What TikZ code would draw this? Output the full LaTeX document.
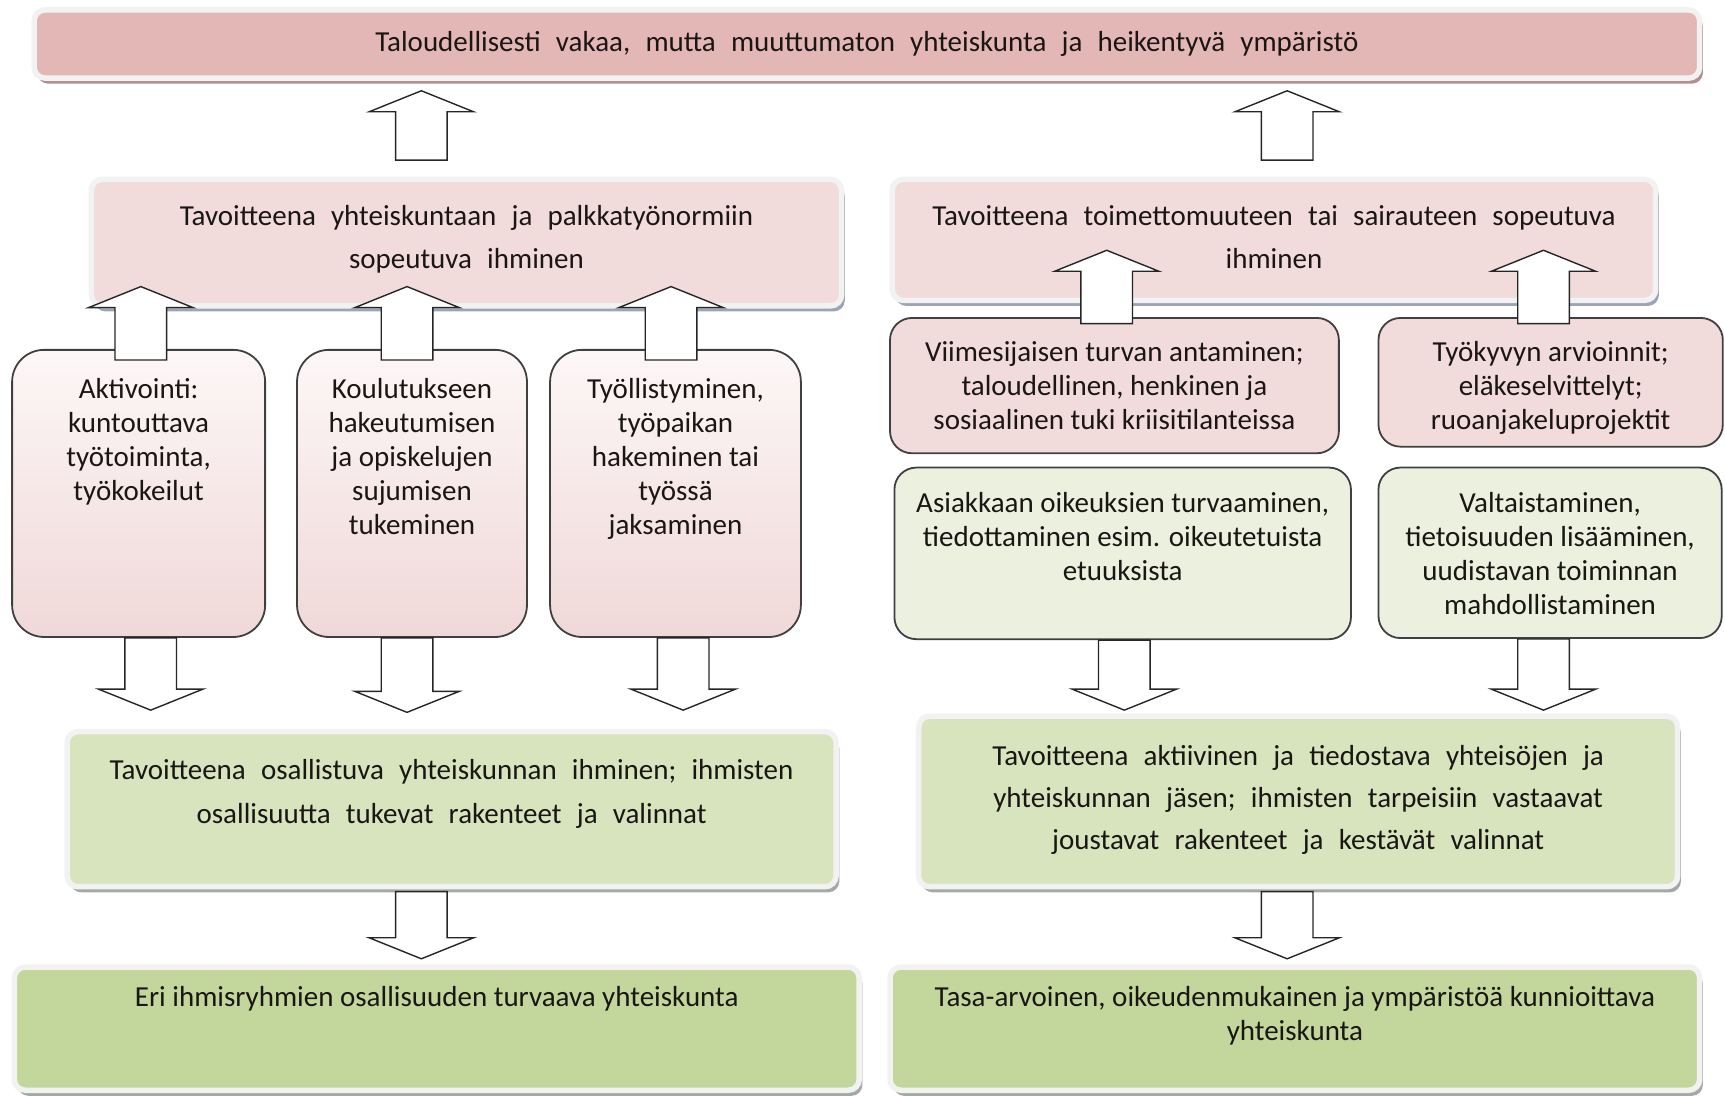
\documentclass[tikz,border=0pt]{standalone}
\usepackage{xcolor}
\usepackage{fontspec}
\setmainfont{Carlito}
\usepackage{tikz}
\usetikzlibrary{calc,shadows}

\definecolor{toppink}{HTML}{E4B7B7}
\definecolor{topshade}{HTML}{B48F90}
\definecolor{lightpink}{HTML}{F2DCDB}
\definecolor{blueshade}{HTML}{9AA5B8}
\definecolor{midgreen}{HTML}{D7E4BD}
\definecolor{darkgreen}{HTML}{C3D69B}
\definecolor{greyshade}{HTML}{A3AAA6}
\definecolor{lightgreen}{HTML}{EBF1DE}
\definecolor{framegrey}{HTML}{F2F2F2}
\definecolor{edgedark}{HTML}{404040}
\definecolor{gradtop}{HTML}{FDF7F7}
\definecolor{gradbottom}{HTML}{F0D8D8}
\definecolor{textdark}{HTML}{1A1614}

% wider word gaps in the banners
\newcommand{\widespaces}{\spaceskip=7.6pt plus 2pt minus 1pt\relax}
% text pinned to the top of a box: height, width, text
\newcommand{\boxtext}[3]{\parbox[c][#1][t]{#2}{\centering\strut #3}}
% hollow block arrow from tail #1 to tip #2 (vertical)
\newcommand{\blockarrow}[2]{%
  \draw[blockarr] let \p1=#1, \p2=#2, \n1={ifthenelse(\y2>\y1,1,-1)} in
    ({\x1-12.9pt},\y1) -- ({\x1-12.9pt},{\y2-(\n1)*10.5pt}) -- ({\x1-26.1pt},{\y2-(\n1)*10.5pt})
    -- (\x1,\y2) -- ({\x1+26.1pt},{\y2-(\n1)*10.5pt}) -- ({\x1+12.9pt},{\y2-(\n1)*10.5pt})
    -- ({\x1+12.9pt},\y1) -- cycle;}

\begin{document}
\begin{tikzpicture}[x=0.55pt, y=-0.55pt,
				framebox/.style={draw=framegrey, line width=2.75pt, rounded corners=5.5pt, inner sep=0pt, text=textdark},
				topbanner/.style={framebox, fill=toppink, font=\fontsize{14.5}{17}\selectfont\widespaces,
					drop shadow={shadow xshift=1.6pt, shadow yshift=-2.8pt, fill=topshade, opacity=1}},
				pinkbanner/.style={framebox, fill=lightpink, font=\fontsize{14.5}{21.5}\selectfont\widespaces,
					drop shadow={shadow xshift=1.6pt, shadow yshift=-2.8pt, fill=blueshade, opacity=1}},
				greenbanner/.style={framebox, fill=midgreen, font=\fontsize{14.5}{22}\selectfont\widespaces,
					drop shadow={shadow xshift=1.6pt, shadow yshift=-2.8pt, fill=greyshade, opacity=1}},
				goalbox/.style={framebox, fill=darkgreen, font=\fontsize{14.5}{17}\selectfont,
					drop shadow={shadow xshift=1.6pt, shadow yshift=-2.8pt, fill=greyshade, opacity=1}},
				tallbox/.style={draw=edgedark, line width=0.9pt, rounded corners=16pt, top color=gradtop, bottom color=gradbottom,
					inner sep=0pt, font=\fontsize{14.5}{17}\selectfont, text=textdark},
				pinkbox/.style={draw=edgedark, line width=0.9pt, rounded corners=11pt, fill=lightpink,
					inner sep=0pt, font=\fontsize{14.5}{17}\selectfont, text=textdark},
				greenbox/.style={pinkbox, fill=lightgreen},
				blockarr/.style={draw=black!85, fill=white, line width=0.7pt, line join=miter},
				]
				\useasboundingbox (0,0) rectangle (1568,996);

				%Nodes
				\node[topbanner, minimum width=832.7pt, minimum height=34.1pt](top) at (788,40)
					{Taloudellisesti vakaa, mutta muuttumaton yhteiskunta ja heikentyvä ympäristö};

				\node[pinkbanner, minimum width=375.1pt, minimum height=63.25pt](midL) at (424,220.5)
					{\boxtext{46.8pt}{360pt}{Tavoitteena yhteiskuntaan ja palkkatyönormiin\\sopeutuva ihminen}};
				\node[pinkbanner, minimum width=381.7pt, minimum height=60.5pt](midR) at (1158,218)
					{\boxtext{44pt}{375pt}{Tavoitteena toimettomuuteen tai sairauteen sopeutuva\\ihminen}};

				\node[tallbox, minimum width=126.5pt, minimum height=143.55pt](act1) at (126,448.5)
					{\boxtext{119.2pt}{120pt}{Aktivointi:\\kuntouttava\\työtoiminta,\\työkokeilut}};
				\node[tallbox, minimum width=114.95pt, minimum height=143.55pt](act2) at (374.5,448.5)
					{\boxtext{119.2pt}{110pt}{Koulutukseen\\hakeutumisen\\ja opiskelujen\\sujumisen\\tukeminen}};
				\node[tallbox, minimum width=125.4pt, minimum height=143.55pt](act3) at (614,448.5)
					{\boxtext{119.2pt}{120pt}{Työllistyminen,\\työpaikan\\hakeminen tai\\työssä\\jaksaminen}};

				\node[pinkbox, minimum width=224.4pt, minimum height=67.65pt](sup1) at (1013,350.5)
					{\boxtext{47.6pt}{218pt}{Viimesijaisen turvan antaminen;\\taloudellinen, henkinen ja\\sosiaalinen tuki kriisitilanteissa}};
				\node[pinkbox, minimum width=172.15pt, minimum height=64.35pt](sup2) at (1409.5,347.5)
					{\boxtext{44.3pt}{168pt}{Työkyvyn arvioinnit;\\eläkeselvittelyt;\\ruoanjakeluprojektit}};

				\node[greenbox, minimum width=228.25pt, minimum height=85.8pt](emp1) at (1020.5,503)
					{\boxtext{64.6pt}{224pt}{Asiakkaan oikeuksien turvaaminen,\\tiedottaminen esim. oikeutetuista\\etuuksista}};
				\node[greenbox, minimum width=171.6pt, minimum height=85.25pt](emp2) at (1409,502.5)
					{\boxtext{64.1pt}{168pt}{Valtaistaminen,\\tietoisuuden lisääminen,\\uudistavan toiminnan\\mahdollistaminen}};

				\node[greenbanner, minimum width=384.45pt, minimum height=77.55pt](partL) at (410.5,735.5)
					{\boxtext{60.1pt}{375pt}{Tavoitteena osallistuva yhteiskunnan ihminen; ihmisten\\osallisuutta tukevat rakenteet ja valinnat}};
				\node[greenbanner, font=\fontsize{14.5}{21}\selectfont\widespaces, minimum width=379.5pt, minimum height=85.25pt](partR) at (1180,728.5)
					{\boxtext{65.3pt}{372pt}{Tavoitteena aktiivinen ja tiedostava yhteisöjen ja\\yhteiskunnan jäsen; ihmisten tarpeisiin vastaavat\\joustavat rakenteet ja kestävät valinnat}};

				\node[goalbox, minimum width=422.4pt, minimum height=61.6pt](goalL) at (397,935)
					{\boxtext{45.9pt}{415pt}{Eri ihmisryhmien osallisuuden turvaava yhteiskunta}};
				\node[goalbox, minimum width=404.8pt, minimum height=61.6pt](goalR) at (1177,935)
					{\boxtext{45.9pt}{400pt}{Tasa-arvoinen, oikeudenmukainen ja ympäristöä kunnioittava\\yhteiskunta}};

				%Arrows
				\blockarrow{($(midL.north)+(-41,-15)$)}{($(top.south -| midL.north)+(-41,9)$)}
				\blockarrow{($(midR.north)+(12,-15)$)}{($(top.south -| midR.north)+(12,9)$)}

				\blockarrow{($(act1.north)+(2,10)$)}{($(midL.south -| act1.north)+(2,-20)$)}
				\blockarrow{($(act2.north)+(-4.5,10)$)}{($(midL.south -| act2.north)+(-4.5,-20)$)}
				\blockarrow{($(act3.north)+(-4,10)$)}{($(midL.south -| act3.north)+(-4,-20)$)}

				\blockarrow{($(sup1.north)+(-7,6)$)}{($(midR.south -| sup1.north)+(-7,-48)$)}
				\blockarrow{($(sup2.north)+(-6.5,6)$)}{($(midR.south -| sup2.north)+(-6.5,-48)$)}

				\blockarrow{($(act1.south)+(11,0)$)}{($(partL.north -| act1.south)+(11,-17)$)}
				\blockarrow{($(act2.south)+(-4.5,0)$)}{($(partL.north -| act2.south)+(-4.5,-15)$)}
				\blockarrow{($(act3.south)+(7,0)$)}{($(partL.north -| act3.south)+(7,-17)$)}

				\blockarrow{($(emp1.south)+(1.5,0)$)}{($(partR.north -| emp1.south)+(1.5,-3)$)}
				\blockarrow{($(emp2.south)+(-6,0)$)}{($(partR.north -| emp2.south)+(-6,-3)$)}

				\blockarrow{($(partL.south)+(-27.5,2)$)}{($(goalL.north -| partL.south)+(-27.5,-5)$)}
				\blockarrow{($(partR.south)+(-10,2)$)}{($(goalR.north -| partR.south)+(-10,-5)$)}

			\end{tikzpicture}
\end{document}
